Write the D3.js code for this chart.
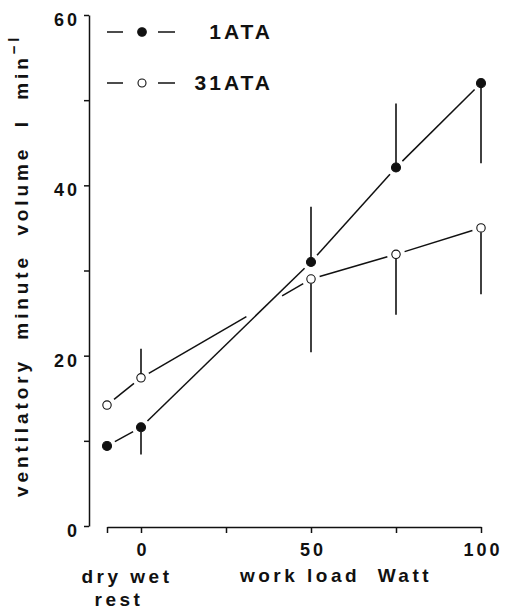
<!DOCTYPE html>
<html><head><meta charset="utf-8">
<script src="https://cdn.jsdelivr.net/npm/d3@7"></script>
<style>
body{margin:0;background:#fff;}
text{font-family:"Liberation Sans",Arial,Helvetica,sans-serif;font-weight:bold;fill:#111;}
</style></head>
<body><svg id="c" width="508" height="611"></svg>
<script>
// ---- data ----
const xCategories = ["dry", "wet", "50", "75", "100"];
const xValues = [-10, 0, 50, 75, 100];
const ata1 = [9.4, 11.6, 31.0, 42.1, 52.0];
const ata1ErrEnd = [null, 8.4, 37.5, 49.6, 42.6];
const ata31 = [14.2, 17.4, 29.0, 31.9, 35.0];
const ata31ErrEnd = [null, 20.8, 20.4, 24.8, 27.2];
const ata31Breaks = [[31, 41.5]];
const yTicks = [0, 10, 20, 30, 40, 50, 60];
const yTickLabels = ["0", "", "20", "", "40", "", "60"];
const xTicks = [-10, 0, 25, 50, 75, 100];
const xTickLabels = ["", "0", "", "50", "", "100"];
const seriesNames = ["1ATA", "31ATA"];

const svg = d3.select("#c");
const x = d3.scaleLinear().domain([-10, 100]).range([107, 481]);
const y = d3.scaleLinear().domain([0, 60]).range([526, 15]);
const ink = "#111";
const FONT = "Liberation Sans, Arial, sans-serif";

// y axis
const yAxis = d3.axisLeft(y).tickValues(yTicks).tickSize(5).tickSizeOuter(0)
  .tickFormat((d, i) => yTickLabels[i]);
const gy = svg.append("g").attr("transform", "translate(89,0)").call(yAxis);
gy.select(".domain").attr("stroke", ink).attr("stroke-width", 1.5);
gy.selectAll(".tick line").attr("stroke", ink).attr("stroke-width", 1.5);
gy.selectAll(".tick text").attr("x", -9).attr("dy", "0.75em").attr("y", -3)
  .style("font-size", "18px").style("letter-spacing", "3px").style("font-family", FONT).style("font-weight", "bold").attr("fill", ink);

// x axis
const xAxis = d3.axisBottom(x).tickValues(xTicks).tickSize(6).tickSizeOuter(0)
  .tickFormat((d, i) => xTickLabels[i]);
const gx = svg.append("g").attr("transform", "translate(0,527)").call(xAxis);
gx.select(".domain").attr("stroke", ink).attr("stroke-width", 1.5);
gx.selectAll(".tick text").attr("y", 16).attr("dy", "0.71em").attr("dx", "1.5px")
  .style("font-size", "18px").style("letter-spacing", "3px").style("font-family", FONT).style("font-weight", "bold").attr("fill", ink);
gx.selectAll(".tick line").attr("stroke", ink).attr("stroke-width", 1.5);

// x labels
const lblStyle = s => s.style("font-size", "19px").style("letter-spacing", "3.5px").attr("xml:space", "preserve");
svg.append("text").attr("x", 127).attr("y", 583).attr("text-anchor", "middle").call(lblStyle).text("dry wet");
svg.append("text").attr("x", 119).attr("y", 606).attr("text-anchor", "middle").call(lblStyle).text("rest");
svg.append("text").attr("x", 336).attr("y", 582).attr("text-anchor", "middle").call(lblStyle).text("work load  Watt");

// y label
const yl = svg.append("text").attr("transform", "translate(28,497) rotate(-90)")
  .attr("text-anchor", "start").style("font-size", "19px").style("letter-spacing", "3.9px")
  .attr("xml:space", "preserve");
yl.append("tspan").text("ventilatory  minute  volume  l  min");
yl.append("tspan").attr("dy", -9).style("font-size", "15px").text("−l");

// lines with gaps near markers
function segs(vals, breaks) {
  const out = [];
  const gap = 9;
  for (let i = 0; i < vals.length - 1; i++) {
    const x1 = x(xValues[i]), y1 = y(vals[i]), x2 = x(xValues[i + 1]), y2 = y(vals[i + 1]);
    const L = Math.hypot(x2 - x1, y2 - y1);
    let t0 = gap / L, t1 = 1 - gap / L;
    let parts = [[t0, t1]];
    (breaks || []).forEach(b => {
      const ta = (x(b[0]) - x1) / (x2 - x1), tb = (x(b[1]) - x1) / (x2 - x1);
      if (ta > t0 && tb < t1) {
        parts = parts.flatMap(p => (ta > p[0] && tb < p[1]) ? [[p[0], ta], [tb, p[1]]] : [p]);
      }
    });
    parts.forEach(p => out.push([x1 + (x2 - x1) * p[0], y1 + (y2 - y1) * p[0], x1 + (x2 - x1) * p[1], y1 + (y2 - y1) * p[1]]));
  }
  return out;
}
function drawSeries(vals, errEnd, filled, breaks) {
  const g = svg.append("g");
  g.selectAll("line.s").data(segs(vals, breaks)).enter().append("line")
    .attr("x1", d => d[0]).attr("y1", d => d[1]).attr("x2", d => d[2]).attr("y2", d => d[3])
    .attr("stroke", ink).attr("stroke-width", 1.5);
  const eb = vals.map((v, i) => ({ v, e: errEnd[i], xv: xValues[i] })).filter(d => d.e != null);
  g.selectAll("line.e").data(eb).enter().append("line")
    .attr("x1", d => x(d.xv)).attr("x2", d => x(d.xv))
    .attr("y1", d => y(d.v) + (d.e > d.v ? -4.5 : 4.5)).attr("y2", d => y(d.e))
    .attr("stroke", ink).attr("stroke-width", 1.6);
  g.selectAll("circle").data(vals).enter().append("circle")
    .attr("cx", (d, i) => x(xValues[i])).attr("cy", d => y(d)).attr("r", filled ? 4.5 : 4.2)
    .attr("fill", filled ? ink : "#fff").attr("stroke", ink).attr("stroke-width", 1.1);
}
drawSeries(ata1, ata1ErrEnd, true, []);
drawSeries(ata31, ata31ErrEnd, false, ata31Breaks);

// legend
const legY = [32, 83];
seriesNames.forEach((name, i) => {
  const g = svg.append("g");
  g.append("line").attr("x1", 107).attr("x2", 123).attr("y1", legY[i]).attr("y2", legY[i]).attr("stroke", ink).attr("stroke-width", 1.5);
  g.append("line").attr("x1", 158).attr("x2", 175).attr("y1", legY[i]).attr("y2", legY[i]).attr("stroke", ink).attr("stroke-width", 1.5);
  g.append("circle").attr("cx", 142).attr("cy", legY[i]).attr("r", i === 0 ? 4.3 : 4)
    .attr("fill", i === 0 ? ink : "#fff").attr("stroke", ink).attr("stroke-width", 1.1);
  g.append("text").attr("x", 273).attr("y", legY[i] + 7).attr("text-anchor", "end")
    .style("font-size", "21px").style("letter-spacing", "3px").text(name);
});
</script></body></html>
